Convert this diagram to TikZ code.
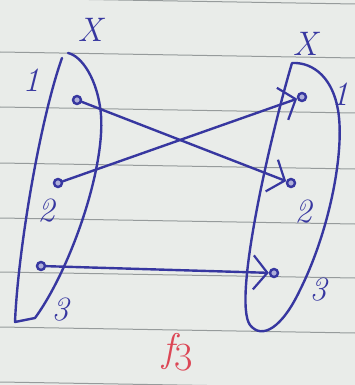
\documentclass[tikz,border=0pt]{standalone}
\usepackage{fontspec}
\usetikzlibrary{arrows.meta}
\definecolor{paper}{RGB}{233,236,233}
\definecolor{rule}{RGB}{150,155,155}
\definecolor{ink}{RGB}{55,55,160}
\definecolor{redink}{RGB}{220,70,85}
\begin{document}
\begin{tikzpicture}[x=1pt,y=-1pt,
  inkline/.style={draw=ink,line width=2.4pt,line cap=round,line join=round},
  elem/.style={circle,draw=ink,line width=2.4pt,inner sep=0pt,minimum size=8pt,fill=ink!40},
  lab/.style={text=ink,font=\fontsize{34}{34}\selectfont\itshape},
  mapto/.style={inkline,-{Straight Barb[length=14pt,width=34pt,line width=2.2pt]}}
]
\useasboundingbox (0,0) rectangle (355,385);
\fill[paper] (0,0) rectangle (355,385);
% ruled paper
\foreach \yy in {-2,52,107,163,218,272,327,382}
  \draw[rule,line width=1pt] (0,\yy) -- (355,\yy+6);

% left set
\draw[inkline] (62,58) .. controls (40,120) and (18,250) .. (15,322) -- (35,318)
  .. controls (70,270) and (105,170) .. (101,115) .. controls (98,80) and (82,56) .. (68,53);
% right set
\draw[inkline] (292,63) .. controls (272,130) and (232,300) .. (250,325)
  .. controls (262,340) and (282,328) .. (300,290) .. controls (330,230) and (345,150) .. (338,110)
  .. controls (333,80) and (315,62) .. (292,63);

% elements
\node[elem] (l1) at (77,100) {};
\node[elem] (l2) at (58,183) {};
\node[elem] (l3) at (41,266) {};
\node[elem] (r1) at (302,97) {};
\node[elem] (r2) at (291,183) {};
\node[elem] (r3) at (274,273) {};

% labels
\node[lab] (xl) at (90,30) {X};
\node[lab] (xr) at (305,44) {X};
\node[lab] (n1l) at (31,80) {1};
\node[lab] (n2l) at (46,211) {2};
\node[lab] (n3l) at (60,310) {3};
\node[lab] (n1r) at (340,94) {1};
\node[lab] (n2r) at (303,212) {2};
\node[lab] (n3r) at (318,290) {3};
\node[text=redink,font=\fontsize{40}{40}\selectfont\itshape] (f) at (178,352) {f\raisebox{-9pt}{\upshape 3}};

% mapping
\draw[mapto] (l1) -- (r2);
\draw[mapto] (l2) -- (r1);
\draw[mapto] (l3) -- (r3);
\end{tikzpicture}
\end{document}
